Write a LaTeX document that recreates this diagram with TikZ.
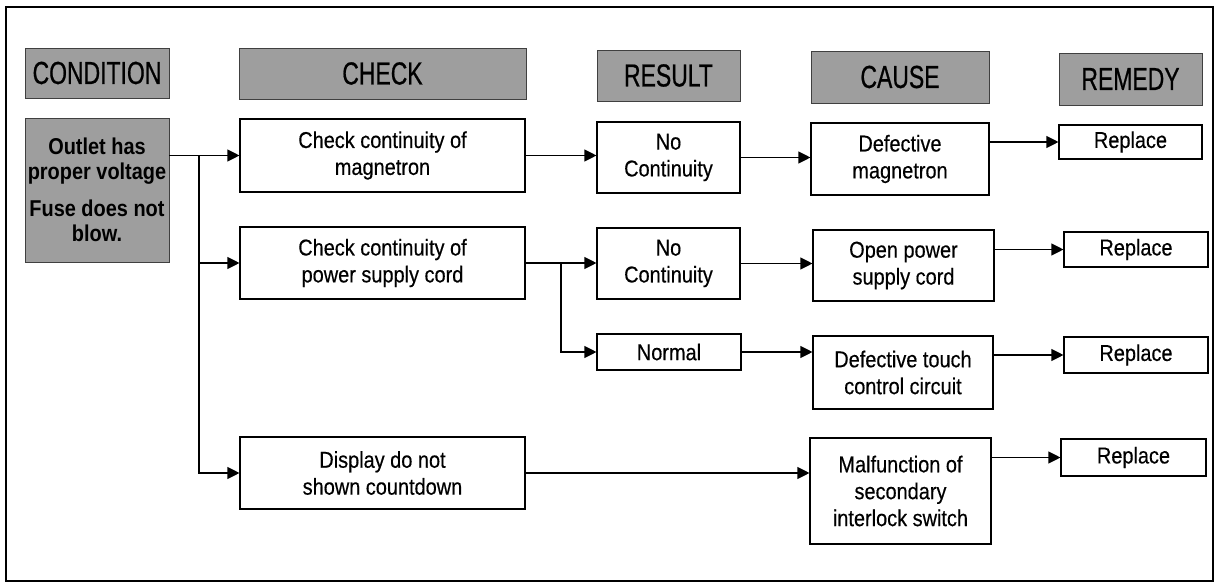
\documentclass[tikz,border=0pt]{standalone}
\usepackage{fontspec}
\setmainfont{Liberation Sans}[FakeStretch=0.87,FakeBold=0.4]
\newfontfamily\hdrfont{Liberation Sans}[FakeStretch=0.72,FakeBold=0.6]
\newfontfamily\condfont{Liberation Sans Bold}[FakeStretch=0.87]
\usetikzlibrary{arrows.meta}
\definecolor{hdrgray}{gray}{0.62}
\begin{document}
\begin{tikzpicture}[x=1bp,y=-1bp,
  box/.style={draw=black,line width=1.1bp,fill=white,inner sep=0pt,align=center,
    font=\fontsize{23}{27}\selectfont},
  hdr/.style={draw=black!75,line width=0.9bp,fill=hdrgray,inner sep=0pt,align=center,
    font=\hdrfont\fontsize{32}{34}\selectfont},
  condbox/.style={draw=black!75,line width=0.9bp,fill=hdrgray,inner sep=0pt,align=center,
    font=\condfont\fontsize{23}{25.5}\selectfont},
  conn/.style={line width=1.1bp},
  arr/.style={conn,-{Triangle[length=12bp,width=12bp]}}
]
\useasboundingbox (0,0) rectangle (1217,586);
\draw[line width=1.5bp] (6,7) rectangle (1213,581);

% headers
\node[hdr,minimum width=144bp,minimum height=50bp] (hcond) at (97,73) {CONDITION};
\node[hdr,minimum width=287bp,minimum height=51bp] (hcheck) at (382.5,73.5) {CHECK};
\node[hdr,minimum width=143bp,minimum height=51bp] (hres) at (668.5,75.5) {RESULT};
\node[hdr,minimum width=178bp,minimum height=52bp] (hcause) at (900,77) {CAUSE};
\node[hdr,minimum width=143bp,minimum height=52bp] (hrem) at (1130.5,79) {REMEDY};

% condition
\node[condbox,minimum width=144bp,minimum height=144bp] (cond) at (97,190)
  {Outlet has\\proper voltage\\[11bp]Fuse does not\\blow.};

% checks
\node[box,minimum width=285bp,minimum height=73bp] (chk1) at (382.5,155.5) {Check continuity of\\magnetron};
\node[box,minimum width=285bp,minimum height=72bp] (chk2) at (382.5,263) {Check continuity of\\power supply cord};
\node[box,minimum width=285bp,minimum height=72bp] (chk3) at (382.5,473) {Display do not\\shown countdown};

% results
\node[box,minimum width=143bp,minimum height=71bp] (res1) at (668.5,157.5) {No\\Continuity};
\node[box,minimum width=143bp,minimum height=71bp] (res2) at (668.5,263.5) {No\\Continuity};
\node[box,minimum width=144bp,minimum height=36bp] (norm) at (669,352) {Normal};

% causes
\node[box,minimum width=178bp,minimum height=72bp] (cau1) at (900,159) {Defective\\magnetron};
\node[box,minimum width=181bp,minimum height=71bp] (cau2) at (903.5,265.5) {Open power\\supply cord};
\node[box,minimum width=180bp,minimum height=73bp] (cau3) at (903,372.5) {Defective touch\\control circuit};
\node[box,minimum width=181bp,minimum height=106bp] (cau4) at (900.5,491) {Malfunction of\\secondary\\interlock switch};

% remedies
\node[box,minimum width=143bp,minimum height=34bp] (rem1) at (1130.5,142) {Replace};
\node[box,minimum width=144bp,minimum height=35bp] (rem2) at (1136,249.5) {Replace};
\node[box,minimum width=144bp,minimum height=36bp] (rem3) at (1136,355) {Replace};
\node[box,minimum width=145bp,minimum height=37bp] (rem4) at (1133.5,457.5) {Replace};

% junction coordinates
\coordinate (j1) at (199,0);
\coordinate (j2) at (561,0);

% connectors
\draw[arr] (cond.east |- chk1.west) -- (chk1.west);
\draw[arr] (j1 |- chk1.west) -- (j1 |- chk3.west) -- (chk3.west);
\draw[arr] (j1 |- chk2.west) -- (chk2.west);

\draw[arr] (chk1.east) -- (chk1.east -| res1.west);
\draw[arr] (res1.east) -- (res1.east -| cau1.west);
\draw[arr] (cau1.east |- rem1.west) -- (rem1.west);

\draw[arr] (chk2.east) -- (chk2.east -| res2.west);
\draw[arr] (j2 |- chk2.east) -- (j2 |- norm.west) -- (norm.west);
\draw[arr] (res2.east) -- (res2.east -| cau2.west);
\draw[arr] (cau2.east |- rem2.west) -- (rem2.west);
\draw[arr] (norm.east) -- (norm.east -| cau3.west);
\draw[arr] (cau3.east |- rem3.west) -- (rem3.west);

\draw[arr] (chk3.east) -- (chk3.east -| cau4.west);
\draw[arr] (cau4.east |- rem4.west) -- (rem4.west);
\end{tikzpicture}
\end{document}
